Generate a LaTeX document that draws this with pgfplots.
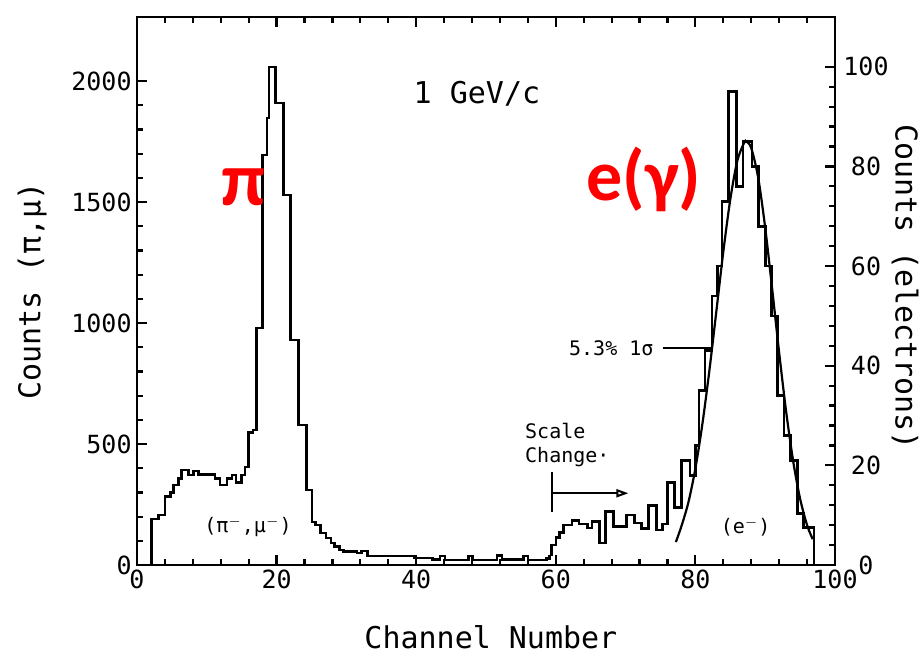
\documentclass[border=0pt]{standalone}
\usepackage{pgfplots}
\pgfplotsset{compat=1.18}
\usepackage{fontspec}
\usetikzlibrary{arrows.meta}
\newfontfamily\plotfont{DejaVu Sans Mono}
\newfontfamily\redfont{Carlito}
\definecolor{labred}{RGB}{255,0,0}

\pgfplotsset{
  basestyle/.style={
    scale only axis, width=349pt, height=274pt,
    xmin=0, xmax=100, clip=false,
    axis line style={line width=1.4pt, black},
    tick style={line width=1.1pt, black},
    major tick length=5pt, minor tick length=3pt,
    tick label style={font=\plotfont\fontsize{12.5}{13}\selectfont},
    /pgf/number format/assume math mode=true,
    /pgf/number format/set thousands separator={},
  },
}

\begin{document}
\begin{tikzpicture}
\begin{axis}[basestyle, ymin=0, ymax=2265,
  xtick={0,20,40,60,80,100}, minor x tick num=4,
  ytick={0,500,1000,1500,2000}, minor y tick num=4,
  xtick pos=both, ytick pos=left,
  xticklabel style={inner sep=2.5pt},
  yticklabel style={inner sep=2.5pt},
]
% pion / muon part, left scale
\addplot[const plot mark left, line width=1.3pt, black, mark=none] coordinates {
(0,0) (2.1,190) (3.1,206) (4.0,282) (4.8,300) (5.2,330) (5.95,358) (6.4,392)
(7.4,372) (8.1,388) (8.8,375) (11.2,358) (11.9,330) (12.9,358) (13.6,372)
(14.2,340) (15.0,372) (15.5,405) (16.0,548) (16.6,558) (17.1,980) (18.0,1694)
(18.6,1847) (18.9,2058) (19.8,1909) (21.0,1529) (21.95,930) (23.1,579)
(24.3,310) (25.1,178) (25.6,165) (26.3,132) (27.1,111) (27.8,91) (28.3,76)
(29.0,62) (29.6,55) (31.5,50) (32.2,58) (33.0,37) (39.7,29) (42.3,22)
(43.4,38) (44.1,20) (47.5,38) (48.1,20) (51.6,40) (52.3,22) (55.4,38)
(56.0,20) (58.7,26) (59.1,41)
};
\node[font=\plotfont\fontsize{15}{16}\selectfont] at (axis cs:48.7,1946) {1 GeV/c};
\node[font=\redfont\bfseries\fontsize{38}{38}\selectfont, text=labred] at (axis cs:15.2,1560) {π};
\node[font=\plotfont\fontsize{10}{11}\selectfont] at (axis cs:15.9,157) {(π$^{-}$,μ$^{-}$)};
\node[font=\plotfont\fontsize{15}{16}\selectfont, rotate=90] at (axis description cs:-0.1504,0.5) {Counts (π,μ)};
\node[font=\plotfont\fontsize{15}{16}\selectfont] at (axis description cs:0.507,-0.131) {Channel Number};
\end{axis}
\begin{axis}[basestyle, ymin=0, ymax=110,
  axis x line=none, axis y line*=right,
  ytick={0,20,40,60,80,100}, minor y tick num=4,
  yticklabel style={anchor=center, xshift=15.5pt},
]
% electron part, right scale
\addplot[const plot mark left, line width=1.3pt, black, mark=none] coordinates {
(59.1,2) (59.4,4) (60.0,5.5) (60.5,6.5) (61.1,8) (62.3,8.9) (63.3,8.2)
(64.5,7.4) (65.2,8.7) (66.3,4.4) (67.1,10.7) (68.3,7.7) (70.1,10) (71.3,8.4)
(72.3,7.3) (73.3,12) (74.4,7) (75.3,8.2) (76.0,16.5) (77.0,11.5) (78.0,21)
(79.2,18) (80.0,24) (80.5,35) (81.4,43) (82.4,54) (83.2,60) (83.8,73)
(84.7,95) (85.9,76) (86.8,85) (88.1,80) (89.0,68) (90.0,60) (90.9,50)
(91.8,34) (92.7,26) (93.6,21) (94.6,10.3) (95.5,7.5) (97.0,0) (100,0)
};
% fitted curve
\addplot[smooth, line width=1.1pt, black, mark=none] coordinates {
(77.2,4.6) (78,7.8) (79,12.6) (80,19.4) (81,28.3) (82,39) (83,50.9) (84,62.9)
(85,73.4) (86,81.1) (87,84.8) (87.3,85) (88,83.7) (89,77.7) (90,67.7)
(91,55.4) (92,42.6) (93,30.8) (94,20.9) (95,13.3) (96,8.0) (96.8,5.2)
};
\node[font=\redfont\bfseries\fontsize{36}{36}\selectfont, text=labred] at (axis cs:72.6,77.3) {e(γ)};
\node[font=\plotfont\fontsize{10}{11}\selectfont] at (axis cs:87.2,7.6) {(e$^{-}$)};
\node[font=\plotfont\fontsize{10}{11}\selectfont, anchor=east] at (axis cs:75.0,43.6) {5.3\% 1σ};
\draw[line width=1pt] (axis cs:75.3,43.6) -- (axis cs:82.4,43.6);
\node[font=\plotfont\fontsize{10}{12}\selectfont, anchor=west, align=left] at (axis cs:54.6,24) {Scale\\Change·};
\draw[line width=1pt] (axis cs:59.5,10.6) -- (axis cs:59.5,18.6);
\draw[line width=1pt, -{Triangle[open, length=6pt, width=4pt]}] (axis cs:59.5,14.4) -- (axis cs:70.4,14.4);
\node[font=\plotfont\fontsize{15}{16}\selectfont, rotate=-90] at (axis description cs:1.1003,0.507) {Counts (electrons)};
\end{axis}
\path (current axis.south west) ++(-68.5pt,-44pt) coordinate (bbA);
\path (current axis.north east) ++(43.5pt,8.5pt) coordinate (bbB);
\pgfresetboundingbox
\useasboundingbox (bbA) rectangle (bbB);
\end{tikzpicture}
\end{document}
